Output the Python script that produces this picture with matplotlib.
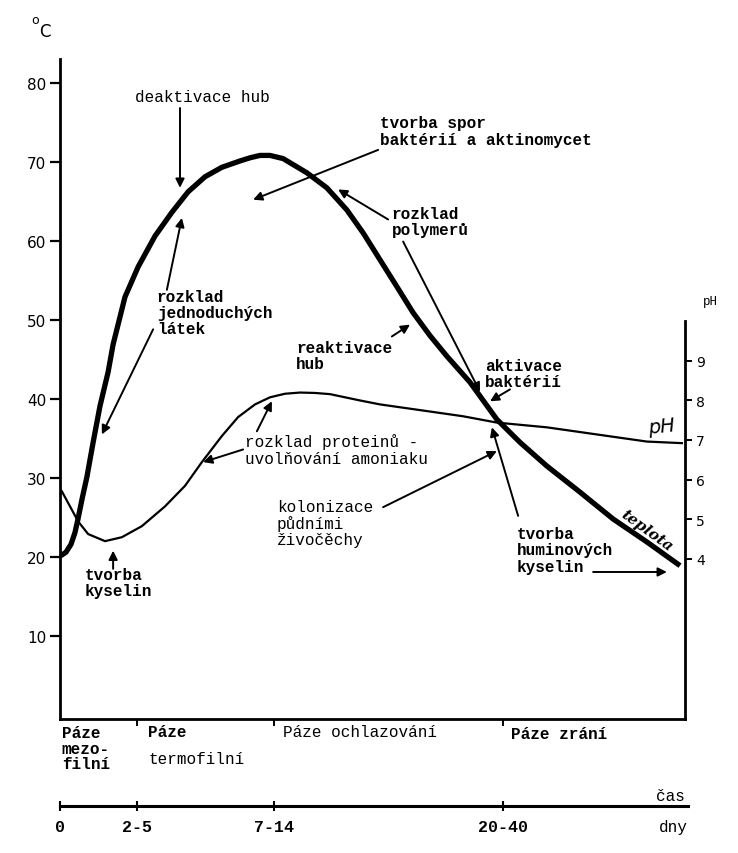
import matplotlib.pyplot as plt

# time axis (position along the drawn time line, 0..100)
tick_pos = [0, 12.3, 34.2, 70.9]
tick_labels = ["0", "2-5", "7-14", "20-40"]

# temperature curve (deg C)
temp_x = [0, 0.96, 1.76, 2.4, 2.88, 3.52, 4.3, 5.3, 6.4, 7.7, 8.5, 10.4,
          12.5, 15.2, 17.9, 20.5, 23.2, 25.9, 28.8, 30.4, 32.0, 33.6, 35.7,
          39.5, 42.7, 45.9, 48.5, 51.2, 53.9, 56.5, 59.2, 61.9, 65.6, 69.9,
          73.6, 77.9, 83.2, 88.5, 93.9, 99.2]
temp_y = [20.1, 20.6, 21.6, 23.1, 24.8, 27.3, 30.1, 34.5, 39.1, 43.4, 46.9,
          52.9, 56.7, 60.6, 63.6, 66.2, 68.1, 69.3, 70.1, 70.5, 70.8, 70.8,
          70.4, 68.6, 66.7, 63.9, 61.0, 57.6, 54.2, 50.9, 48.0, 45.4, 42.1,
          37.4, 34.5, 31.5, 28.2, 24.8, 21.9, 18.9]

# pH curve
ph_x = [0.3, 1.6, 2.9, 4.5, 7.2, 9.9, 13.1, 16.8, 20.0, 22.7, 25.9, 28.5,
        31.2, 33.6, 36.0, 38.4, 40.8, 43.2, 48.0, 51.2, 59.2, 64.5, 69.9,
        77.9, 85.9, 93.9, 99.5]
ph_y = [5.70, 5.32, 4.94, 4.62, 4.44, 4.54, 4.82, 5.32, 5.84, 6.44, 7.10,
        7.58, 7.90, 8.08, 8.17, 8.20, 8.19, 8.16, 8.00, 7.90, 7.72, 7.60,
        7.44, 7.32, 7.14, 6.96, 6.92]

temp_ticks = [10, 20, 30, 40, 50, 60, 70, 80]
ph_ticks = [4, 5, 6, 7, 8, 9]

W, H = 738, 854
mono = "Liberation Mono"
fs = 11.5

fig = plt.figure(figsize=(W / 100, H / 100), dpi=100)
ax = fig.add_axes([60 / W, 1 - 720 / H, 625 / W, 660 / H])
ax.set_xlim(0, 100)
ax.set_ylim(-0.5, 83)
ax.spines["top"].set_visible(False)
ax.spines["right"].set_visible(False)
for s in ["left", "bottom"]:
    ax.spines[s].set_linewidth(2)

ax.plot(temp_x, temp_y, color="black", lw=3.8, solid_capstyle="butt",
        solid_joinstyle="round")

ax.set_yticks(temp_ticks)
ax.set_yticklabels([str(t) for t in temp_ticks], fontsize=11)
ax.tick_params(axis="y", direction="out", length=7, width=1.6, pad=3)
ax.set_xticks(tick_pos[1:])
ax.set_xticklabels([])
ax.tick_params(axis="x", direction="out", length=5, width=1.4)

# right pH axis
ax2 = ax.twinx()
ax2.set_ylim((-0.5 + 0.2) / 5, (83 + 0.2) / 5)
for s in ["left", "top", "bottom"]:
    ax2.spines[s].set_visible(False)
ax2.spines["right"].set_linewidth(2)
ax2.spines["right"].set_bounds((-0.5 + 0.2) / 5, 10)
ax2.set_yticks(ph_ticks)
ax2.set_yticklabels([str(t) for t in ph_ticks], fontsize=10)
ax2.tick_params(axis="y", direction="out", length=5, width=1.4, pad=3)
ax2.plot(ph_x, ph_y, color="black", lw=1.6, solid_joinstyle="round")

# lower time axis
ax3 = fig.add_axes([60 / W, 1 - 807 / H, 628 / W, 0.0001])
ax3.set_xlim(0, 100 * 628 / 625)
ax3.set_yticks([])
for s in ["left", "top", "right"]:
    ax3.spines[s].set_visible(False)
ax3.spines["bottom"].set_linewidth(2.2)
ax3.set_xticks(tick_pos)
ax3.set_xticklabels(tick_labels, family=mono, weight="bold", fontsize=12)
ax3.tick_params(axis="x", direction="inout", length=7, width=1.5, pad=6)
ax3.patch.set_visible(False)

fig.text(685 / W, 1 - 797 / H, "čas", family=mono, fontsize=fs,
         ha="right", va="center")
fig.text(688 / W, 1 - 828 / H, "dny", family=mono, fontsize=fs,
         ha="right", va="center")
fig.text(35 / W, 1 - 20 / H, "o", fontsize=9, ha="center", va="center")
fig.text(45 / W, 1 - 32 / H, "C", fontsize=12, ha="center", va="center")
fig.text(710 / W, 1 - 302 / H, "pH", family=mono, fontsize=9,
         ha="center", va="center")

# annotations
notes = [
    ("deaktivace hub", 12.0, 78.2, "normal"),
    ("tvorba spor\nbaktérií a aktinomycet", 51.2, 73.9, "bold"),
    ("rozklad\npolymerů", 53.1, 62.4, "bold"),
    ("rozklad\njednoduchých\nlátek", 15.5, 50.9, "bold"),
    ("reaktivace\nhub", 37.8, 45.5, "bold"),
    ("aktivace\nbaktérií", 68.0, 43.2, "bold"),
    ("rozklad proteinů -\nuvolňování amoniaku", 29.6, 33.6, "normal"),
    ("kolonizace\npůdními\nživočěchy", 34.7, 24.3, "normal"),
    ("tvorba\nhuminových\nkyselin", 73.1, 20.9, "bold"),
    ("tvorba\nkyselin", 4.0, 16.8, "bold"),
]
for txt, x, y, w in notes:
    ax.text(x, y, txt, family=mono, fontsize=fs, weight=w, ha="left",
            va="center", linespacing=1.1)

arrows = [
    ((19.2, 76.8), (19.2, 66.7)),
    ((50.9, 71.5), (30.9, 65.2)),
    ((52.5, 62.7), (44.5, 66.5)),
    ((54.9, 59.9), (67.2, 40.9)),
    ((17.1, 53.8), (19.5, 62.9)),
    ((14.9, 48.8), (6.7, 35.5)),
    ((53.1, 47.9), (56.0, 49.4)),
    ((72.0, 41.2), (68.8, 39.7)),
    ((31.5, 35.9), (33.9, 39.7)),
    ((29.3, 33.6), (22.9, 32.0)),
    ((51.7, 26.3), (69.9, 33.4)),
    ((73.3, 25.2), (69.1, 36.4)),
    ((85.3, 18.1), (97.1, 18.1)),
    ((8.5, 18.5), (8.5, 20.8)),
]
for tail, head in arrows:
    ax.annotate("", xy=head, xytext=tail,
                arrowprops=dict(arrowstyle="-|>", color="black", lw=1.4,
                                mutation_scale=13, shrinkA=0, shrinkB=0))

ax.text(96.2, 36.6, "pH", fontsize=14, style="italic", rotation=6,
        ha="center", va="center")
ax.text(93.8, 23.4, "teplota", family="DejaVu Serif", style="italic",
        weight="bold", fontsize=11, rotation=-36, ha="center", va="center")

# phase labels under the box
phases = [
    ("Páze\nmezo-\nfilní", 0.3, -4.2, "bold"),
    ("Páze", 14.1, -2.1, "bold"),
    ("termofilní", 14.1, -5.5, "normal"),
    ("Páze ochlazování", 35.7, -2.1, "normal"),
    ("Páze zrání", 72.2, -2.3, "bold"),
]
for txt, x, y, w in phases:
    ax.text(x, y, txt, family=mono, fontsize=fs, weight=w, ha="left",
            va="center", linespacing=1.05, clip_on=False)

fig.savefig("out.png", dpi=100)
